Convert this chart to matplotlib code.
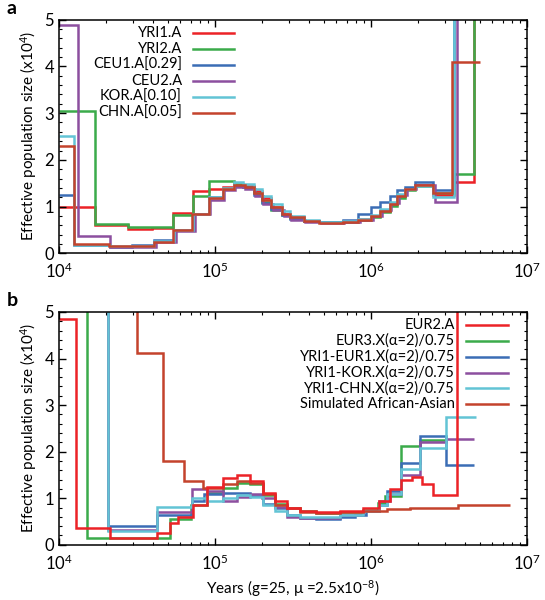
import numpy as np
import matplotlib
matplotlib.use("Agg")
import matplotlib.pyplot as plt
from matplotlib.ticker import MultipleLocator, LogLocator
from matplotlib.lines import Line2D

plt.rcParams["font.family"] = ["Lato", "DejaVu Sans"]
plt.rcParams["mathtext.fontset"] = "custom"
plt.rcParams["mathtext.rm"] = "Lato"
plt.rcParams["mathtext.it"] = "Lato:italic"

# ---- panel a: PSMC curves (edges in log10 years, values in 1e4) ----
yri_edges = [4.0, 4.23, 4.44, 4.6, 4.73, 4.86, 4.96, 5.05, 5.12, 5.18, 5.25, 5.30, 5.36, 5.43,
             5.48, 5.57, 5.67, 5.82, 5.92, 6.0, 6.06, 6.12, 6.17, 6.22, 6.28, 6.40, 6.53, 6.66, 6.75]
yri1_vals = [1.0, 0.6, 0.51, 0.55, 0.86, 1.33, 1.38, 1.42, 1.46, 1.45, 1.33, 1.18, 1.0, 0.85,
             0.78, 0.7, 0.66, 0.68, 0.74, 0.8, 0.9, 1.05, 1.22, 1.38, 1.46, 1.25, 1.53, 30]
yri2_vals = [3.05, 0.62, 0.57, 0.57, 0.82, 1.22, 1.54, 1.54, 1.48, 1.42, 1.3, 1.1, 0.92, 0.82,
             0.76, 0.7, 0.66, 0.67, 0.72, 0.78, 0.88, 1.02, 1.18, 1.35, 1.45, 1.3, 1.69, 30]

ceu_edges = [4.0, 4.10, 4.33, 4.47, 4.61, 4.74, 4.86, 4.96, 5.05, 5.12, 5.18, 5.25, 5.30, 5.36,
             5.43, 5.48, 5.57, 5.67, 5.82, 5.92, 6.0, 6.06, 6.12, 6.17, 6.22, 6.28, 6.40, 6.53, 6.62]
ceu1_vals = [1.25, 0.18, 0.13, 0.18, 0.28, 0.5, 0.85, 1.2, 1.38, 1.45, 1.42, 1.25, 1.08, 0.95,
             0.82, 0.74, 0.68, 0.66, 0.72, 0.85, 0.98, 1.1, 1.22, 1.35, 1.42, 1.53, 1.36, 30]
kor_vals = [2.52, 0.18, 0.15, 0.16, 0.27, 0.5, 0.85, 1.2, 1.4, 1.52, 1.48, 1.38, 1.22, 1.05,
            0.9, 0.8, 0.72, 0.66, 0.68, 0.74, 0.82, 0.95, 1.1, 1.27, 1.38, 1.45, 1.2, 30]

ceu2_edges = [4.0, 4.12, 4.33, 4.62, 4.75, 4.87, 4.97, 5.06, 5.13, 5.19, 5.26, 5.31, 5.37, 5.44,
              5.49, 5.58, 5.68, 5.83, 5.93, 6.01, 6.07, 6.13, 6.18, 6.23, 6.29, 6.41, 6.55, 6.62]
ceu2_vals = [4.88, 0.36, 0.13, 0.25, 0.48, 0.84, 1.15, 1.35, 1.42, 1.38, 1.22, 1.05, 0.92, 0.8,
             0.72, 0.67, 0.64, 0.66, 0.72, 0.8, 0.92, 1.07, 1.25, 1.38, 1.46, 1.1, 30]

chn_edges = [4.0, 4.096, 4.32, 4.61, 4.73, 4.85, 4.96, 5.05, 5.12, 5.19, 5.25, 5.30, 5.36, 5.43,
             5.48, 5.57, 5.67, 5.82, 5.92, 6.0, 6.06, 6.12, 6.17, 6.22, 6.28, 6.40, 6.52, 6.70]
chn_vals = [2.3, 0.19, 0.16, 0.25, 0.5, 0.83, 1.18, 1.38, 1.46, 1.42, 1.3, 1.15, 0.98, 0.85,
            0.77, 0.7, 0.65, 0.66, 0.72, 0.8, 0.9, 1.05, 1.22, 1.38, 1.46, 1.3, 4.1]

# ---- panel b ----
eur2_edges = [4.0, 4.113, 4.327, 4.626, 4.712, 4.765, 4.861, 4.947, 5.054, 5.139, 5.225, 5.310,
              5.385, 5.460, 5.545, 5.65, 5.80, 5.95, 6.05, 6.12, 6.19, 6.26, 6.33, 6.40, 6.55, 6.75]
eur2_vals = [4.86, 0.36, 0.14, 0.25, 0.46, 0.6, 0.86, 1.25, 1.43, 1.5, 1.36, 1.11,
             0.93, 0.79, 0.72, 0.7, 0.72, 0.78, 0.95, 1.2, 1.4, 1.45, 1.3, 1.08, 30]

eur3_edges = [4.0, 4.178, 4.712, 4.848, 4.95, 5.054, 5.139, 5.225, 5.31, 5.385, 5.46, 5.545,
              5.65, 5.80, 5.95, 6.047, 6.092, 6.192, 6.314, 6.481]
eur3_vals = [30, 0.14, 0.56, 0.85, 1.12, 1.22, 1.33, 1.3, 1.08, 0.88, 0.78, 0.72,
             0.68, 0.7, 0.75, 0.9, 1.05, 2.12, 2.25]

yeur_edges = [4.0, 4.316, 4.626, 4.85, 4.93, 5.054, 5.139, 5.225, 5.31, 5.385, 5.46, 5.545,
              5.65, 5.80, 5.90, 5.97, 6.05, 6.10, 6.192, 6.314, 6.481, 6.659]
yeur_vals = [30, 0.4, 0.63, 0.95, 1.1, 1.12, 1.12, 1.05, 0.88, 0.78, 0.65, 0.58,
             0.56, 0.6, 0.65, 0.72, 0.85, 1.15, 1.75, 2.33, 1.72]

ykor_edges = [4.0, 4.316, 4.626, 4.85, 4.95, 5.054, 5.139, 5.225, 5.30, 5.385, 5.46, 5.545,
              5.65, 5.80, 5.95, 6.05, 6.12, 6.192, 6.314, 6.481, 6.659]
ykor_vals = [30, 0.32, 0.7, 1.2, 1.15, 0.95, 1.02, 1.1, 1.0, 0.82, 0.6, 0.58,
             0.58, 0.63, 0.72, 0.95, 1.1, 1.5, 2.2, 2.27]

ychn_edges = [4.0, 4.316, 4.626, 4.85, 4.95, 5.054, 5.139, 5.225, 5.31, 5.385, 5.46, 5.545,
              5.65, 5.80, 5.95, 6.05, 6.10, 6.192, 6.314, 6.481, 6.675]
ychn_vals = [30, 0.3, 0.82, 1.0, 0.93, 1.0, 1.08, 1.03, 0.85, 0.72, 0.65, 0.6,
             0.6, 0.65, 0.72, 0.85, 1.1, 1.62, 2.07, 2.75]

sim_edges = [4.0, 4.502, 4.665, 4.801, 4.921, 5.054, 5.139, 5.225, 5.31, 5.385, 5.46, 5.545,
             5.65, 5.80, 5.95, 6.10, 6.25, 6.35, 6.45, 6.56, 6.89]
sim_vals = [30, 4.13, 1.81, 1.38, 1.22, 1.3, 1.36, 1.32, 1.1, 0.85, 0.78, 0.7,
            0.68, 0.7, 0.73, 0.76, 0.79, 0.78, 0.8, 0.86]

RED = "#ec2227"
GREEN = "#3bab4a"
BLUE = "#3b6db5"
PURPLE = "#8c4f9f"
CYAN = "#62c4d5"
BROWN = "#c4432c"

series_a = [
    ("YRI1.A", yri_edges, yri1_vals, RED),
    ("YRI2.A", yri_edges, yri2_vals, GREEN),
    ("CEU1.A[0.29]", ceu_edges, ceu1_vals, BLUE),
    ("CEU2.A", ceu2_edges, ceu2_vals, PURPLE),
    ("KOR.A[0.10]", ceu_edges, kor_vals, CYAN),
    ("CHN.A[0.05]", chn_edges, chn_vals, BROWN),
]
series_b = [
    ("EUR2.A", eur2_edges, eur2_vals, RED),
    ("EUR3.X(\u03b1=2)/0.75", eur3_edges, eur3_vals, GREEN),
    ("YRI1-EUR1.X(\u03b1=2)/0.75", yeur_edges, yeur_vals, BLUE),
    ("YRI1-KOR.X(\u03b1=2)/0.75", ykor_edges, ykor_vals, PURPLE),
    ("YRI1-CHN.X(\u03b1=2)/0.75", ychn_edges, ychn_vals, CYAN),
    ("Simulated African-Asian", sim_edges, sim_vals, BROWN),
]


def style_axis(ax):
    ax.set_xscale("log")
    ax.set_xlim(1e4, 1e7)
    ax.set_ylim(0, 5)
    ax.yaxis.set_major_locator(MultipleLocator(1))
    ax.yaxis.set_minor_locator(MultipleLocator(0.2))
    ax.xaxis.set_minor_locator(LogLocator(subs=np.arange(2, 10)))
    ax.tick_params(which="both", direction="in", top=True, right=True, labelsize=12)
    ax.tick_params(which="major", length=5, width=1)
    ax.tick_params(which="minor", length=2.5, width=0.8)
    ax.tick_params(axis="x", pad=6)
    for s in ax.spines.values():
        s.set_linewidth(1.1)
    ax.set_ylabel("Effective population size (x10$^{4}$)", fontsize=11, labelpad=4)


def draw_legend(ax, series, text_x, line_x0, line_x1, y0, dy):
    for i, (label, _, _, color) in enumerate(series):
        y = y0 - i * dy
        ax.text(text_x, y, label, transform=ax.transAxes, ha="right", va="center", fontsize=10.5)
        ax.add_line(Line2D([line_x0, line_x1], [y, y], transform=ax.transAxes,
                           color=color, lw=1.8))


fig = plt.figure(figsize=(5.45, 6.0), dpi=100)
ax_a = fig.add_axes([0.108, 0.578, 0.859, 0.389])
ax_b = fig.add_axes([0.108, 0.092, 0.859, 0.388])

for label, edges, vals, color in series_a:
    ax_a.stairs(vals, 10 ** np.array(edges), baseline=None, color=color, lw=1.8)
style_axis(ax_a)
draw_legend(ax_a, series_a, 0.263, 0.286, 0.374, 0.945, 0.0687)

order_b = [1, 2, 3, 4, 5, 0]
for i in order_b:
    label, edges, vals, color = series_b[i]
    ax_b.stairs(vals, 10 ** np.array(edges), baseline=None, color=color, lw=1.8)
style_axis(ax_b)
draw_legend(ax_b, series_b, 0.846, 0.870, 0.959, 0.944, 0.068)
ax_b.set_xlabel("Years (g=25, \u03bc =2.5x10$^{-8}$)", fontsize=11, labelpad=4)

fig.text(0.012, 0.985, "a", fontsize=14, fontweight="bold", va="center")
fig.text(0.012, 0.5, "b", fontsize=14, fontweight="bold", va="center")

fig.savefig("out.png", dpi=100)
